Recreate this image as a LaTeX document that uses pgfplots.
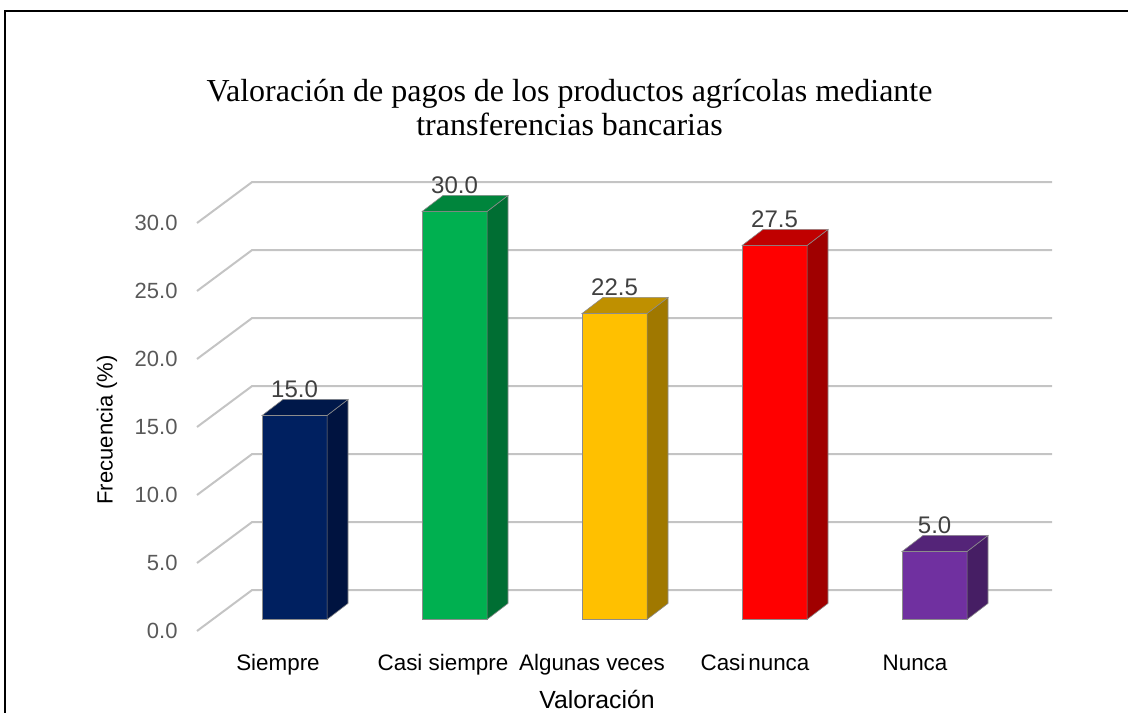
\documentclass[border=0pt]{standalone}
\usepackage{pgfplots}
\pgfplotsset{compat=1.18}
\usepackage{pgfplotstable}
\usepackage{fontspec}
\setmainfont{Liberation Sans}
\newfontfamily\titlefont{Liberation Serif}

\definecolor{f0}{HTML}{002060}\definecolor{s0}{HTML}{001340}\definecolor{t0}{HTML}{00184A}
\definecolor{f1}{HTML}{00B050}\definecolor{s1}{HTML}{006E33}\definecolor{t1}{HTML}{00853C}
\definecolor{f2}{HTML}{FFC000}\definecolor{s2}{HTML}{A07800}\definecolor{t2}{HTML}{BF9000}
\definecolor{f3}{HTML}{FF0000}\definecolor{s3}{HTML}{A00000}\definecolor{t3}{HTML}{C00000}
\definecolor{f4}{HTML}{7030A0}\definecolor{s4}{HTML}{461E64}\definecolor{t4}{HTML}{542478}
\definecolor{gridc}{HTML}{C4C4C4}
\definecolor{tickc}{HTML}{595959}
\definecolor{labc}{HTML}{404040}
\definecolor{edgec}{HTML}{8C8C8C}

\pgfplotstableread{
x v
0 15.0
1 30.0
2 22.5
3 27.5
4 5.0
}\data

\begin{document}
\begin{tikzpicture}
\useasboundingbox (0,0) rectangle (564pt,-356pt);
\draw[line width=0.7pt] (2.5pt,-400pt) -- (2.5pt,-5.5pt) -- (600pt,-5.5pt);
\node[font=\titlefont\fontsize{16}{19}\selectfont, anchor=base] at (284.75pt,-50.5pt) {Valoración de pagos de los productos agrícolas mediante};
\node[font=\titlefont\fontsize{16}{19}\selectfont, anchor=base] at (284.75pt,-67.5pt) {transferencias bancarias};
\begin{axis}[
  scale only axis, width=400pt, height=204pt,
  at={(98.5pt,-315.5pt)}, anchor=south west,
  xmin=-0.5, xmax=4.5, ymin=0, ymax=30, clip=false,
  axis line style={draw=none}, major tick style={draw=none},
  xtick={0,...,4},
  xticklabels={\hspace*{3pt}Siempre, \hspace*{8pt}Casi siempre, Algunas veces\hspace*{3pt}, Casi\kern1.5pt nunca, Nunca},
  xticklabel style={anchor=base, yshift=-19.5pt, xshift=-1pt, font=\fontsize{11.2}{13}\selectfont},
  ytick={0,5,...,30},
  /pgf/number format/assume math mode=true,
  yticklabel={\pgfmathprintnumber[fixed,fixed zerofill,precision=1]{\tick}},
  yticklabel style={font=\fontsize{11}{13}\selectfont, text=tickc, xshift=-6.2pt},
  xlabel={Valoración},
  xlabel style={at={(axis description cs:0.5,0)}, anchor=base, yshift=-38.5pt, font=\fontsize{12.4}{14}\selectfont},
  ylabel={Frecuencia (\%)},
  ylabel style={at={(axis description cs:-0.1125,0.493)}, anchor=center, font=\fontsize{11}{13}\selectfont},
]
% perspective gridlines
\pgfplotsinvokeforeach{0,5,...,30}{%
  \pgfmathsetmacro\yg{#1+3.01}%
  \edef\temp{\noexpand\addplot[gridc, line width=1pt] coordinates {(-0.5,#1) (-0.156,\yg) (4.844,\yg)};}%
  \temp
}
% 3D bars
\pgfplotsinvokeforeach{0,...,4}{%
  \pgfplotstablegetelem{#1}{v}\of\data
  \let\val\pgfplotsretval
  \pgfmathsetmacro\xl{#1+0.11-0.203}%
  \pgfmathsetmacro\xr{#1+0.11+0.203}%
  \pgfmathsetmacro\xc{#1+0.11}%
  \pgfmathsetmacro\xb{\xr+0.131}%
  \pgfmathsetmacro\xlb{\xl+0.131}%
  \pgfmathsetmacro\yt{\val+0.85}%
  \pgfmathsetmacro\ytb{\yt+1.18}%
  \pgfmathsetmacro\ybb{0.85+1.18}%
  \edef\temp{%
    \noexpand\addplot[fill=f#1, draw=edgec, line width=0.3pt] coordinates {(\xl,0.85) (\xr,0.85) (\xr,\yt) (\xl,\yt)} -- cycle;
    \noexpand\addplot[fill=s#1, draw=edgec, line width=0.3pt] coordinates {(\xr,0.85) (\xb,\ybb) (\xb,\ytb) (\xr,\yt)} -- cycle;
    \noexpand\addplot[fill=t#1, draw=edgec, line width=0.3pt] coordinates {(\xl,\yt) (\xr,\yt) (\xb,\ytb) (\xlb,\ytb)} -- cycle;
    \noexpand\node[anchor=base, text=labc, font=\noexpand\fontsize{12}{14}\noexpand\selectfont, inner sep=0pt, yshift=1pt] at (axis cs:\xc,\ytb) {\noexpand\pgfmathprintnumber[fixed,fixed zerofill,precision=1]{\val}};
  }%
  \temp
}
\end{axis}
\end{tikzpicture}
\end{document}
